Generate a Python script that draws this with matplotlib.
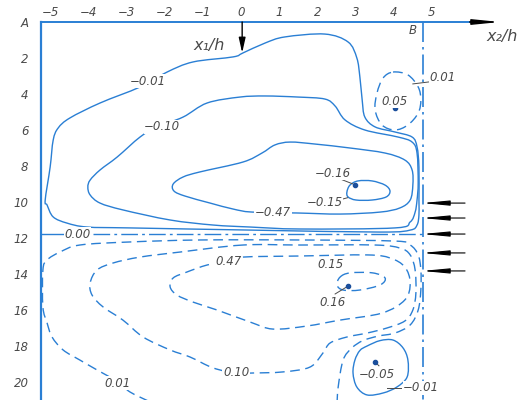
import numpy as np
import matplotlib.pyplot as plt
from matplotlib.path import Path
from matplotlib.patches import PathPatch

# x2/h ticks along the top, depth ticks down the side
x_ticks = [-5, -4, -3, -2, -1, 0, 1, 2, 3, 4, 5]
x_tick_labels = ['\u22125', '\u22124', '\u22123', '\u22122', '\u22121', '0', '1', '2', '3', '4', '5']
y_ticks = [0, 2, 4, 6, 8, 10, 12, 14, 16, 18, 20]
y_tick_labels = ['A', '2', '4', '6', '8', '10', '12', '14', '16', '18', '20']

# solid (negative) isolines, upper part
neg001_x = [3.65, 4.44, 4.62, 4.67, 4.67, 4.67, 4.62, 4.49, 4.04, 3.52, 3.25, 3.18, 3.12, 3.04, 2.81, 2.20, 1.15, 0.63,
            0.05, -0.21, -1.26, -1.94, -2.65, -3.70, -4.49, -4.80, -4.93, -5.01, -5.14, -5.09, -4.93, -4.57, -4.04,
            -2.91, 0.24]
neg001_y = [11.67, 11.56, 11.28, 10.72, 9.89, 8.06, 6.94, 6.39, 6.11, 5.83, 5.28, 4.33, 3.06, 2.0, 1.11, 0.67, 0.83, 1.17,
            1.72, 1.94, 2.22, 2.78, 3.61, 4.5, 5.33, 5.89, 6.56, 8.06, 9.89, 10.17, 10.83, 11.17, 11.39,
            11.44, 11.56]

neg010_x = [0.24, 1.55, 4.04, 4.44, 4.57, 4.62, 4.65, 4.62, 4.49, 4.12, 3.25, 2.73, 2.47, 2.20, 1.50, 0.63, -0.03,
            -0.89, -1.52, -2.20, -2.65, -3.25, -3.70, -3.96, -4.02, -3.96, -3.70, -3.10, -1.86, -0.73]
neg010_y = [11.39, 11.5, 11.44, 11.11, 10.56, 9.89, 8.94, 7.28, 6.67, 6.39, 6.0, 5.44, 4.67, 4.28, 4.17, 4.11, 4.17,
            4.5, 5.28, 5.83, 6.39, 7.5, 8.22, 8.78, 9.17, 9.61, 10.06, 10.44, 11.0, 11.28]

neg047_x = [1.47, 2.60, 3.65, 4.17, 4.44, 4.51, 4.49, 4.30, 3.78, 2.86, 1.94, 1.29, 0.89, 0.55, 0.05, -1.08, -1.52,
            -1.78, -1.76, -1.47, -0.81, -0.21, 0.29]
neg047_y = [10.61, 10.67, 10.56, 10.33, 9.89, 9.06, 8.22, 7.67, 7.28, 7.0, 6.78, 6.67, 6.83, 7.28, 7.78, 8.33, 8.61,
            9.0, 9.39, 9.67, 10.06, 10.39, 10.56]

neg015_x = [2.78, 2.86, 3.07, 3.44, 3.78, 3.91, 3.81, 3.44, 3.02, 2.81]
neg015_y = [9.44, 9.06, 8.83, 8.83, 9.06, 9.39, 9.72, 9.89, 9.89, 9.72]

neg005_x = [3.31, 3.65, 3.99, 4.25, 4.38, 4.36, 4.09, 3.73, 3.31, 3.04, 2.94, 2.99, 3.12]
neg005_y = [18.0, 17.7, 17.67, 18.1, 18.78, 19.72, 20.28, 20.61, 20.72, 20.28, 19.5, 18.78, 18.25]

# dashed (positive) isolines
pos005_x = [3.99, 4.38, 4.65, 4.72, 4.65, 4.38, 4.04, 3.70, 3.52, 3.57, 3.73]
pos005_y = [2.78, 2.94, 3.61, 4.33, 5.06, 5.72, 6.0, 5.72, 4.89, 3.94, 3.11]

pos001_x = [2.52, 2.55, 2.68, 2.91, 3.20, 3.60, 4.04, 4.44, 4.65, 4.72, 4.72, 4.65, 4.44, 4.04, 1.55, -1.08, -2.91,
            -4.23, -4.75, -5.09, -5.20, -5.20, -5.09, -4.96, -4.67, -4.23, -3.78, -3.23, -2.91, -2.39]
pos001_y = [21.2, 20.28, 18.78, 18.11, 17.7, 17.45, 17.28, 16.83, 16.0, 14.89, 13.78, 12.94, 12.39, 12.17, 12.11,
            12.11, 12.22, 12.39, 12.78, 13.22, 13.78, 15.83, 16.72, 17.5, 18.22, 18.78, 19.33, 20.0, 20.56, 21.1]

pos010_x = [0.05, -1.60, -2.65, -3.36, -3.78, -3.96, -3.91, -3.62, -3.10, -2.57, -1.86, -1.34, -0.73, -0.13, 0.31,
            1.10, 1.81, 2.15, 2.34, 2.78, 3.31, 3.83, 4.30, 4.51, 4.59, 4.57, 4.44, 4.17, 3.52, 1.55]
pos010_y = [12.39, 12.78, 13.06, 13.39, 13.78, 14.5, 15.17, 15.83, 16.56, 17.5, 18.22, 18.61, 19.22, 19.5, 19.5,
            19.44, 19.17, 18.39, 17.83, 17.5, 17.28, 17.0, 16.61, 16.0, 15.06, 13.78, 12.94, 12.56, 12.39, 12.39]

pos047_x = [0.05, 1.55, 3.31, 3.91, 4.30, 4.44, 4.30, 3.70, 2.60, 1.73, 0.84, 0.24, -0.63, -1.26, -1.68, -1.86,
            -1.78, -1.42, -0.89, -0.34]
pos047_y = [13.06, 13.0, 12.94, 13.11, 13.61, 14.5, 15.44, 16.17, 16.56, 16.89, 17.06, 16.67, 16.0, 15.56, 15.17,
            14.72, 14.22, 13.89, 13.5, 13.28]

pos015_x = [2.60, 2.86, 3.46, 3.78, 3.65, 3.12, 2.68, 2.52]
pos015_y = [14.17, 13.94, 13.94, 14.22, 14.61, 14.89, 14.89, 14.61]

# extreme points (dots)
dot_x = [2.99, 4.04, 2.81, 3.52]
dot_y = [9.06, 4.78, 14.67, 18.89]

# isoline labels
lab_text = ['\u22120.01', '\u22120.10', '\u22120.47', '\u22120.16', '\u22120.15', '0.05', '0.01', '0.00',
            '0.47', '0.15', '0.16', '0.10', '0.01', '\u22120.05', '\u22120.01']
lab_x = [-2.45, -2.07, 0.84, 2.41, 2.20, 4.04, 5.30, -4.30, -0.34, 2.36, 2.39, -0.13, -3.23, 3.57, 4.73]
lab_y = [3.3, 5.83, 10.56, 8.39, 10.0, 4.39, 3.11, 11.78, 13.3, 13.5, 15.56, 19.5, 20.06, 19.61, 20.33]

# arrows on the right wall
arrow_y = [10.06, 10.89, 11.78, 12.83, 13.83]

blue = '#2a7fd4'
txt = '#4a4a4a'
wall_x = 4.78
dash = (0, (7, 4))


def smooth(xs, ys, closed=False):
    # cubic curve through the read points
    pts = np.column_stack([xs, ys]).astype(float)
    if closed:
        pts = np.vstack([pts, pts[:1]])
        ext = np.vstack([pts[-2:-1], pts, pts[1:2]])
    else:
        ext = np.vstack([pts[:1], pts, pts[-1:]])
    verts = [pts[0]]
    codes = [Path.MOVETO]
    for i in range(1, len(ext) - 2):
        p0, p1, p2, p3 = ext[i - 1], ext[i], ext[i + 1], ext[i + 2]
        verts += [p1 + (p2 - p0) / 6, p2 - (p3 - p1) / 6, p2]
        codes += [Path.CURVE4] * 3
    return Path(verts, codes)


fig = plt.figure(figsize=(5.3, 4), dpi=100)
ax = fig.add_axes([41 / 530, 0, 1 - 41 / 530, 1 - 22 / 400])
ax.set_xlim(-5.25, 7.585)
ax.set_ylim(21.0, 0)

for s in ['top', 'right', 'bottom']:
    ax.spines[s].set_visible(False)
ax.spines['left'].set_color(blue)
ax.spines['left'].set_linewidth(1.6)

ax.xaxis.tick_top()
ax.set_xticks(x_ticks)
ax.set_xticklabels(x_tick_labels)
ax.set_yticks(y_ticks)
ax.set_yticklabels(y_tick_labels)
ax.tick_params(axis='x', length=0, pad=2, labelsize=8.5, labelcolor=txt)
ax.tick_params(axis='y', length=0, pad=9, labelsize=8.5, labelcolor=txt)
for t in ax.get_xticklabels() + ax.get_yticklabels():
    t.set_fontstyle('italic')

# solid lines
for xs, ys, cl in [(neg001_x, neg001_y, True), (neg010_x, neg010_y, True), (neg047_x, neg047_y, True),
                   (neg015_x, neg015_y, True), (neg005_x, neg005_y, True)]:
    ax.add_patch(PathPatch(smooth(xs, ys, cl), fill=False, ec=blue, lw=1.0, zorder=2))

# dashed lines
for xs, ys, cl in [(pos005_x, pos005_y, True), (pos001_x, pos001_y, False), (pos010_x, pos010_y, True),
                   (pos047_x, pos047_y, True), (pos015_x, pos015_y, True)]:
    ax.add_patch(PathPatch(smooth(xs, ys, cl), fill=False, ec=blue, lw=1.0, ls=dash, zorder=2))

# 0.00 line and right wall
ax.plot([-5.25, -4.67], [11.78, 11.78], color=blue, lw=1.0, clip_on=False)
ax.plot([-3.88, wall_x], [11.78, 11.78], color=blue, lw=1.0, ls=(0, (12, 3, 2, 3)))
ax.plot([wall_x, wall_x], [0, 21], color=blue, lw=1.2, ls=(0, (12, 3, 1.5, 3)), clip_on=False)

# top axis with arrow
ax.plot([-5.25, 6.3], [0, 0], color=blue, lw=1.4, clip_on=False)
ax.annotate('', xy=(6.8, 0), xytext=(6.0, 0), annotation_clip=False,
            arrowprops=dict(arrowstyle='-|>,head_length=1.6,head_width=0.16', color='black', lw=1,
                            shrinkA=0, shrinkB=0))
ax.annotate('', xy=(0.03, 1.72), xytext=(0.03, 0), annotation_clip=False,
            arrowprops=dict(arrowstyle='-|>,head_length=0.9,head_width=0.2', color='black', lw=1,
                            shrinkA=0, shrinkB=0))
for y in arrow_y:
    ax.annotate('', xy=(4.75, y), xytext=(5.88, y),
                arrowprops=dict(arrowstyle='-|>,head_length=1.6,head_width=0.15', color='black', lw=0.8,
                                shrinkA=0, shrinkB=0))

ax.plot(dot_x, dot_y, 'o', ms=3, color='#1b4f9c', zorder=4)

# leaders
ax.plot([2.60, 2.94], [8.72, 9.0], color=txt, lw=0.7)
ax.plot([2.68, 2.80], [9.83, 9.76], color=txt, lw=0.7)
ax.plot([4.51, 4.93], [3.44, 3.33], color=txt, lw=0.7)
ax.plot([2.47, 2.81], [15.11, 14.67], color=txt, lw=0.7)
ax.plot([3.52, 3.62], [18.89, 19.1], color=txt, lw=0.7)
ax.plot([3.83, 4.2], [20.33, 20.33], color=txt, lw=0.7)

for s, x, y in zip(lab_text, lab_x, lab_y):
    ax.text(x, y, s, fontsize=8.5, style='italic', color=txt, ha='center', va='center', zorder=5,
            bbox=dict(fc='white', ec='none', pad=0.3))

ax.text(-0.84, 1.28, 'x\u2081/h', fontsize=11.5, style='italic', color=txt, ha='center', va='center')
ax.text(6.85, 0.8, 'x\u2082/h', fontsize=11.5, style='italic', color=txt, ha='center', va='center')
ax.text(4.51, 0.45, 'B', fontsize=8.5, style='italic', color=txt, ha='center', va='center')

fig.savefig('out.png', dpi=100)
